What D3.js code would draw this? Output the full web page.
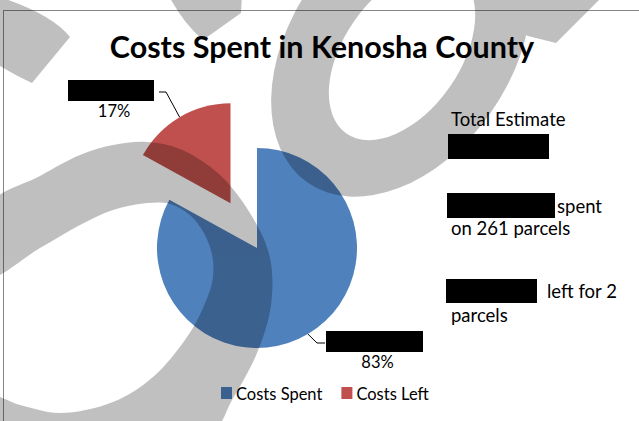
<!DOCTYPE html>
<html>
<head>
<meta charset="utf-8">
<script src="https://cdn.jsdelivr.net/npm/d3@7/dist/d3.min.js"></script>
<style>
  html, body { margin: 0; padding: 0; background: #fff; }
  svg { display: block; font-family: Lato, "Open Sans", sans-serif; }
</style>
</head>
<body>
<svg id="chart" width="639" height="421"></svg>
<script>
// ---- data ----
const categories = ["Costs Spent", "Costs Left"];
const values = [83, 17];
const colors = ["#4f81bd", "#c0504d"];
const title = "Costs Spent in Kenosha County";
const noteLines = [
  { redacted: false, text: "Total Estimate" },
  { redacted: true, text: "" },
  { redacted: true, text: "spent" },
  { redacted: false, text: "on 261 parcels" },
  { redacted: true, text: "left for 2" },
  { redacted: false, text: "parcels" }
];

// ---- layout ----
const W = 639, H = 421;
const cx = 257, cy = 248, R = 100, explode = 52;
const svg = d3.select("#chart");

// chart frame
svg.append("rect")
  .attr("x", 3.5).attr("y", 10.5)
  .attr("width", W + 10).attr("height", H + 10)
  .attr("fill", "none").attr("stroke", "#868686").attr("stroke-width", 1);

// title
svg.append("text")
  .attr("x", 322).attr("y", 58)
  .attr("text-anchor", "middle")
  .attr("font-size", 30.5).attr("font-weight", 700)
  .attr("fill", "#000")
  .text(title);

// ---- pie ----
const pie = d3.pie().sort(null).value(d => d)(values);
const arc = d3.arc().innerRadius(0).outerRadius(R);
const rimArc = d3.arc().innerRadius(R).outerRadius(R);

function offset(d, i) {
  if (i !== 1) return [0, 0];
  const mid = (d.startAngle + d.endAngle) / 2;
  return [Math.sin(mid) * explode, -Math.cos(mid) * explode];
}

const gPie = svg.append("g").attr("transform", `translate(${cx},${cy})`);
gPie.selectAll("path.slice")
  .data(pie)
  .join("path")
  .attr("class", "slice")
  .attr("transform", (d, i) => `translate(${offset(d, i)})`)
  .attr("d", arc)
  .attr("fill", (d, i) => colors[i]);

// data labels: redacted value box with the share underneath, plus a leader line
const labelBoxes = [
  { x: 326, y: 331, w: 97, h: 21, side: 1 },   // Costs Spent
  { x: 68, y: 80, w: 86, h: 21, side: -1 }     // Costs Left
];
const total = d3.sum(values);
pie.forEach((d, i) => {
  const b = labelBoxes[i];
  const [ox, oy] = offset(d, i);
  const [px, py] = rimArc.centroid(d);
  const ax = cx + ox + px, ay = cy + oy + py;
  const ey = b.y + b.h / 2 + 1.5;
  const edgeX = b.side > 0 ? b.x - 1 : b.x + b.w + 5;
  const elbowX = edgeX + (b.side > 0 ? -8 : 7);
  svg.append("path")
    .attr("d", `M${ax},${ay}L${elbowX},${ey}L${edgeX},${ey}`)
    .attr("fill", "none").attr("stroke", "#000").attr("stroke-width", 1);
  svg.append("rect")
    .attr("x", b.x).attr("y", b.y).attr("width", b.w).attr("height", b.h)
    .attr("fill", "#000");
  svg.append("text")
    .attr("x", b.x + b.w / 2 + 3).attr("y", b.y + b.h + 16)
    .attr("text-anchor", "middle")
    .attr("font-size", 16.5).attr("fill", "#000")
    .text(Math.round(values[i] / total * 100) + "%");
});

// ---- side notes ----
const notes = svg.append("g").attr("font-size", 18.5).attr("fill", "#000");
const noteRows = [
  { y: 126, box: null, tx: 451 },
  { y: 159, box: [448, 134, 101, 25], tx: null },
  { y: 213, box: [447, 193, 108, 25], tx: 557 },
  { y: 235, box: null, tx: 451 },
  { y: 298, box: [446, 279, 91, 24], tx: 547 },
  { y: 322, box: null, tx: 451 }
];
noteLines.forEach((n, i) => {
  const r = noteRows[i];
  if (n.redacted && r.box) {
    notes.append("rect")
      .attr("x", r.box[0]).attr("y", r.box[1])
      .attr("width", r.box[2]).attr("height", r.box[3])
      .attr("fill", "#000");
  }
  if (n.text) {
    notes.append("text").attr("x", r.tx).attr("y", r.y).text(n.text);
  }
});

// ---- legend ----
const legend = svg.append("g").attr("transform", "translate(221,387)");
let lx = 0;
categories.forEach((c, i) => {
  const item = legend.append("g").attr("transform", `translate(${lx},0)`);
  item.append("rect").attr("width", 11).attr("height", 12).attr("fill", colors[i]);
  const t = item.append("text")
    .attr("x", 15).attr("y", 13)
    .attr("font-size", 16.5).attr("fill", "#000")
    .text(c);
  lx += 15 + t.node().getComputedTextLength() + 19;
});

// ---- watermark overlay ----
const wm = svg.append("g").attr("opacity", 0.247).attr("fill", "#000");

function ellipsePath(ecx, ecy, a, b, deg) {
  const t = deg * Math.PI / 180;
  const dx = a * Math.cos(t), dy = a * Math.sin(t);
  return `M${ecx - dx},${ecy - dy}A${a},${b} ${deg} 1 0 ${ecx + dx},${ecy + dy}` +
         `A${a},${b} ${deg} 1 0 ${ecx - dx},${ecy - dy}Z`;
}

// tilted loop with a tail at the upper right
wm.append("path")
  .attr("fill-rule", "evenodd")
  .attr("d", ellipsePath(401, 49, 163, 110, -55) + ellipsePath(402, 54, 97, 58, -55));
wm.append("path")
  .attr("d", "M480,-6L606,-6L599,0L556,43L528,36L500,22Z");

// stroke ends along the top edge
wm.append("path").attr("d", "M-10,-6Q50,12 70,37L32,83Q14,75 -10,60Z");
wm.append("path").attr("d", "M168,-6L242,-6L241,13L203,40Q182,22 168,-6Z");

// large curved band sweeping through the pie
const bandPts = [
  [-12, 206], [40, 176], [80, 155], [113, 145], [147, 142], [180, 149], [220, 175],
  [253, 218], [270, 258], [271, 305], [257, 353], [232, 400], [212, 432],
  [100, 450], [-12, 440], [-12, 396], [20, 405], [60, 413], [113, 402], [153, 377],
  [187, 337], [203, 308], [213, 277], [210, 247], [193, 218], [170, 204],
  [147, 203], [113, 210], [80, 225], [40, 248], [-12, 277]
];
wm.append("path")
  .attr("d", d3.line().curve(d3.curveCatmullRomClosed.alpha(0.5))(bandPts));
</script>
</body>
</html>
